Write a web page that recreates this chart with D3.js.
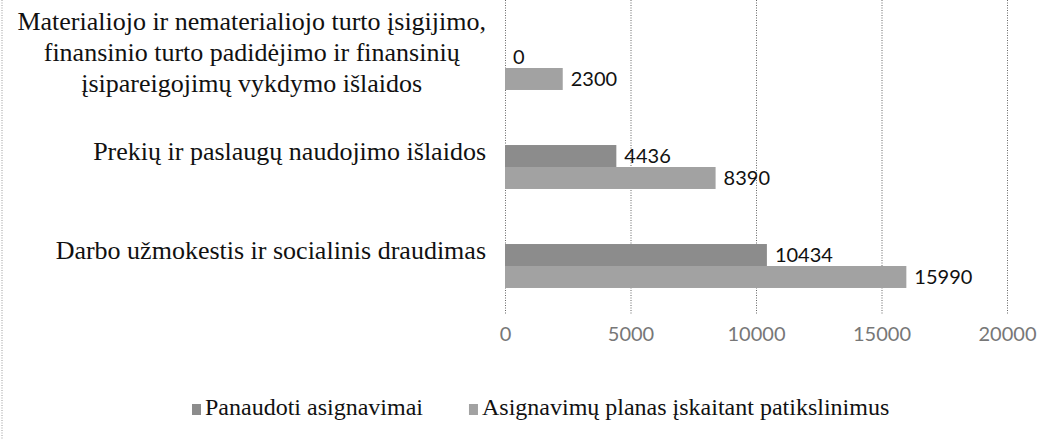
<!DOCTYPE html>
<html>
<head>
<meta charset="utf-8">
<script src="https://cdn.jsdelivr.net/npm/d3@7"></script>
<style>
  html, body { margin: 0; padding: 0; background: #fff; }
  svg { display: block; }
</style>
</head>
<body>
<svg id="chart" width="1053" height="439"></svg>
<script>
// categories, bottom to top (Excel order)
const categories = [
  "Darbo užmokestis ir socialinis draudimas",
  "Prekių ir paslaugų naudojimo išlaidos",
  "Materialiojo ir nematerialiojo turto įsigijimo,|finansinio turto padidėjimo ir finansinių|įsipareigojimų vykdymo išlaidos"
];
const seriesNames = ["Panaudoti asignavimai", "Asignavimų planas įskaitant patikslinimus"];
const panaudoti = [10434, 4436, 0];
const planas = [15990, 8390, 2300];
const xTicks = [0, 5000, 10000, 15000, 20000];

const W = 1053, H = 439;
const colors = ["#8c8c8c", "#a2a2a2"];
const serif = "'Liberation Serif', 'Times New Roman', serif";
const sans = "Lato, Carlito, Calibri, sans-serif";

const svg = d3.select("#chart");

const x = d3.scaleLinear().domain([0, 20000]).range([505, 1007]);
const y = d3.scaleBand().domain(categories).range([315.5, 18.5])
  .paddingInner(0.556).paddingOuter(0.278);
const ys = d3.scaleBand().domain(seriesNames).range([0, y.bandwidth()]);

// left border of the chart area (dotted in the scan)
svg.append("line")
  .attr("x1", 2).attr("x2", 2).attr("y1", 0).attr("y2", H)
  .attr("stroke", "#9a9a9a").attr("stroke-dasharray", "1,1.5");

// gridlines
svg.append("g")
  .selectAll("line")
  .data(xTicks)
  .join("line")
  .attr("x1", d => x(d) + 0.5).attr("x2", d => x(d) + 0.5)
  .attr("y1", 0).attr("y2", 314)
  .attr("stroke", "#666")
  .attr("stroke-width", 1)
  .attr("stroke-dasharray", "1,1.5");

// x axis labels (no axis line)
const xAxis = svg.append("g")
  .attr("transform", "translate(0,314)")
  .call(d3.axisBottom(x).tickValues(xTicks).tickSize(0).tickPadding(13).tickFormat(d3.format("d")));
xAxis.select(".domain").remove();
xAxis.selectAll("text")
  .attr("font-family", sans)
  .attr("font-size", 20)
  .attr("fill", "#777");

// bars
const rows = categories.map((c, i) => ({ cat: c, vals: [panaudoti[i], planas[i]] }));
const groups = svg.append("g")
  .selectAll("g")
  .data(rows)
  .join("g")
  .attr("transform", d => `translate(0,${y(d.cat)})`);

groups.selectAll("rect")
  .data(d => d.vals.map((v, j) => ({ v, s: seriesNames[j], j })))
  .join("rect")
  .attr("x", x(0))
  .attr("y", d => ys(d.s))
  .attr("width", d => x(d.v) - x(0))
  .attr("height", ys.bandwidth())
  .attr("fill", d => colors[d.j]);

groups.selectAll("text")
  .data(d => d.vals.map((v, j) => ({ v, s: seriesNames[j] })))
  .join("text")
  .attr("x", d => x(d.v) + 8)
  .attr("y", d => ys(d.s) + ys.bandwidth() / 2)
  .attr("dy", "0.35em")
  .attr("font-family", sans)
  .attr("font-size", 20)
  .attr("fill", "#111")
  .text(d => d.v);

// category labels: wrapped lines centred in a right-aligned block
const labelRight = 486;
const lineH = 31;
categories.forEach(c => {
  const lines = c.split("|");
  const t = svg.append("text")
    .attr("font-family", serif)
    .attr("font-size", 26)
    .attr("fill", "#111")
    .attr("text-anchor", "middle");
  const cy = y(c) + y.bandwidth() / 2 - 7;
  const spans = lines.map((ln, i) => t.append("tspan")
    .attr("y", cy + (i - (lines.length - 1) / 2) * lineH)
    .text(ln));
  const maxW = d3.max(spans, s => s.node().getComputedTextLength());
  spans.forEach(s => s.attr("x", labelRight - maxW / 2));
});

// legend
const legend = svg.append("g").attr("transform", "translate(192,415)");
let lx = 0;
seriesNames.forEach((name, i) => {
  legend.append("rect")
    .attr("x", lx).attr("y", -11)
    .attr("width", 9).attr("height", 11)
    .attr("fill", colors[i]);
  const t = legend.append("text")
    .attr("x", lx + 13).attr("y", 0)
    .attr("font-family", serif)
    .attr("font-size", 24)
    .attr("fill", "#111")
    .text(name);
  lx += 13 + t.node().getComputedTextLength() + 46;
});
</script>
</body>
</html>
